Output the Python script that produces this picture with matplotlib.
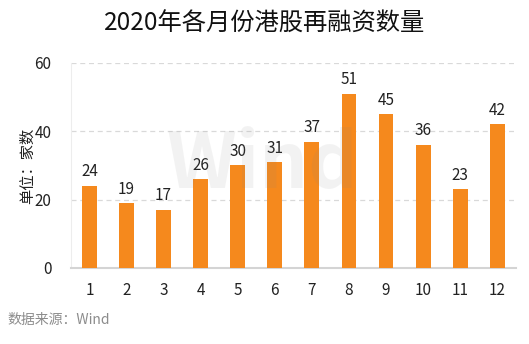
import matplotlib
matplotlib.use('Agg')
import matplotlib.pyplot as plt

plt.rcParams['font.family'] = ['Noto Sans CJK SC', 'DejaVu Sans']

months = [1, 2, 3, 4, 5, 6, 7, 8, 9, 10, 11, 12]
counts = [24, 19, 17, 26, 30, 31, 37, 51, 45, 36, 23, 42]
month_labels = [str(m) for m in months]


def main():
    fig = plt.figure(figsize=(5.29, 3.44), dpi=100)
    ax = fig.add_axes([0.134, 0.221, 0.841, 0.596])

    bars = ax.bar(months, counts, width=0.4, color='#F5891D', zorder=3)
    for b, v in zip(bars, counts):
        ax.text(b.get_x() + b.get_width() / 2, v + 1.6, str(v),
                ha='center', va='bottom', fontsize=11, color='#222222')

    ax.set_xlim(0.5, 12.5)
    ax.set_ylim(0, 60)
    ax.set_xticks(months)
    ax.set_xticklabels(month_labels)
    ax.set_yticks([0, 20, 40, 60])
    ax.tick_params(axis='both', length=0, labelsize=11, colors='#222222')
    ax.tick_params(axis='x', pad=10)
    ax.tick_params(axis='y', pad=14)

    ax.yaxis.grid(True, ls=(0, (4, 3)), color='#d9d9d9', lw=0.9, zorder=0)
    for s in ['top', 'right']:
        ax.spines[s].set_visible(False)
    ax.spines['left'].set_color('#ededed')
    ax.spines['bottom'].set_color('#d4d4d4')
    ax.spines['bottom'].set_linewidth(1.5)

    ax.set_ylabel('单位：家数', fontsize=11, labelpad=-1, color='#222222')

    # faint watermark across the plot
    fig.text(0.495, 0.52, 'Wind', fontsize=55, fontweight='bold',
             color='#888888', alpha=0.1, ha='center', va='center', zorder=5)

    fig.text(0.5, 0.93, '2020年各月份港股再融资数量', ha='center', va='center',
             fontsize=17.5, color='#111111')
    fig.text(0.015, 0.07, '数据来源：Wind', ha='left', va='center',
             fontsize=10, color='#8c8c8c')

    fig.savefig('out.png', dpi=100)
    plt.close(fig)


if __name__ == '__main__':
    main()
